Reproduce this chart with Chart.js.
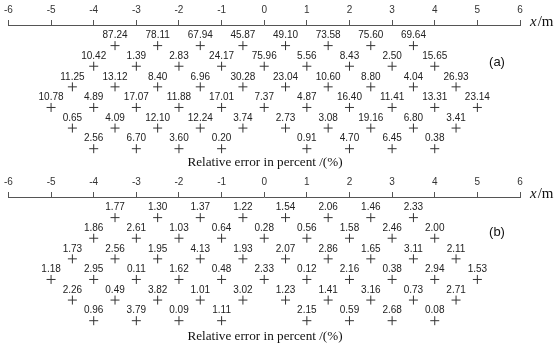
<!DOCTYPE html>
<html>
<head>
<meta charset="utf-8">
<script src="https://cdn.jsdelivr.net/npm/chart.js@4.4.1/dist/chart.umd.min.js"></script>
<style>
html,body{margin:0;padding:0;background:#fff;}
body{width:556px;height:351px;position:relative;overflow:hidden;}
.wrap{position:absolute;left:0;width:556px;}
#wa{top:0;height:172px;}
#wb{top:172px;height:179px;}
</style>
</head>
<body>
<div class="wrap" id="wa"><canvas id="ca"></canvas></div>
<div class="wrap" id="wb"><canvas id="cb"></canvas></div>
<script>
// x positions (m) of each measuring row
const rowX1 = [-3.5,-2.5,-1.5,-0.5,0.5,1.5,2.5,3.5];
const rowX2 = [-4,-3,-2,-1,0,1,2,3,4];
const rowX3 = [-4.5,-3.5,-2.5,-1.5,-0.5,0.5,1.5,2.5,3.5,4.5];
const rowX4 = [-5,-4,-3,-2,-1,0,1,2,3,4,5];
const rowX5 = [-4.5,-3.5,-2.5,-1.5,-0.5,0.5,1.5,2.5,3.5,4.5];
const rowX6 = [-4,-3,-2,-1,1,2,3,4];
const rowXs = [rowX1,rowX2,rowX3,rowX4,rowX5,rowX6];

// panel (a): relative error in percent
const a1 = [87.24,78.11,67.94,45.87,49.10,73.58,75.60,69.64];
const a2 = [10.42,1.39,2.83,24.17,75.96,5.56,8.43,2.50,15.65];
const a3 = [11.25,13.12,8.40,6.96,30.28,23.04,10.60,8.80,4.04,26.93];
const a4 = [10.78,4.89,17.07,11.88,17.01,7.37,4.87,16.40,11.41,13.31,23.14];
const a5 = [0.65,4.09,12.10,12.24,3.74,2.73,3.08,19.16,6.80,3.41];
const a6 = [2.56,6.70,3.60,0.20,0.91,4.70,6.45,0.38];

// panel (b): relative error in percent
const b1 = [1.77,1.30,1.37,1.22,1.54,2.06,1.46,2.33];
const b2 = [1.86,2.61,1.03,0.64,0.28,0.56,1.58,2.46,2.00];
const b3 = [1.73,2.56,1.95,4.13,1.93,2.07,2.86,1.65,3.11,2.11];
const b4 = [1.18,2.95,0.11,1.62,0.48,2.33,0.12,2.16,0.38,2.94,1.53];
const b5 = [2.26,0.49,3.82,1.01,3.02,1.23,1.41,3.16,0.73,2.71];
const b6 = [0.96,3.79,0.09,1.11,2.15,0.59,2.68,0.08];

const xTicks = [-6,-5,-4,-3,-2,-1,0,1,2,3,4,5,6];
const titleText = 'Relative error in percent /(%)';

function buildData(rows){
  const pts = [];
  rows.forEach((vals, r) => {
    vals.forEach((v, i) => pts.push({x: rowXs[r][i], y: r + 1, v: v}));
  });
  return pts;
}

const labelPlugin = {
  id: 'valLabels',
  afterDatasetsDraw(chart, args, opts) {
    const ctx = chart.ctx;
    ctx.save();
    ctx.fillStyle = '#222';
    ctx.font = '10px "Liberation Sans", Arial, sans-serif';
    ctx.textAlign = 'center';
    ctx.textBaseline = 'middle';
    const meta = chart.getDatasetMeta(0);
    const data = chart.data.datasets[0].data;
    meta.data.forEach((el, i) => {
      ctx.fillText(data[i].v.toFixed(2), el.x, el.y - 10);
    });
    // axis unit label
    const xs = chart.scales.x;
    ctx.fillStyle = '#111';
    ctx.textAlign = 'left';
    ctx.font = 'italic 15px "Liberation Serif", "Times New Roman", serif';
    const ux = xs.right + 10, uy = xs.bottom - 3;
    ctx.fillText('x', ux, uy);
    const w = ctx.measureText('x').width;
    ctx.font = '15px "Liberation Serif", "Times New Roman", serif';
    ctx.fillText('/m', ux + w + 1, uy);
    // panel letter
    ctx.font = '13px "Liberation Sans", Arial, sans-serif';
    ctx.textAlign = 'center';
    ctx.fillText(opts.letter, 497, opts.letterY);
    // title
    ctx.font = '13.2px "Liberation Serif", "Times New Roman", serif';
    ctx.fillText(titleText, 265, opts.titleY);
    ctx.restore();
  }
};

function makeChart(id, rows, letter, letterY, titleY, padLeft, padBottom) {
  return new Chart(document.getElementById(id), {
    type: 'scatter',
    data: {
      datasets: [{
        data: buildData(rows),
        pointStyle: 'cross',
        pointRadius: 4.5,
        pointHoverRadius: 4.5,
        borderColor: '#333',
        backgroundColor: '#333',
        pointBorderWidth: 1
      }]
    },
    options: {
      responsive: true,
      maintainAspectRatio: false,
      animation: false,
      events: [],
      layout: {padding: {left: padLeft, right: 36, top: 0, bottom: padBottom}},
      plugins: {
        legend: {display: false},
        tooltip: {enabled: false},
        valLabels: {letter: letter, letterY: letterY, titleY: titleY}
      },
      scales: {
        x: {
          type: 'linear',
          position: 'top',
          min: -6, max: 6,
          afterBuildTicks: (s) => { s.ticks = xTicks.map(v => ({value: v})); },
          ticks: {
            color: '#333',
            font: {family: '"Liberation Sans", Arial, sans-serif', size: 10},
            padding: 4,
            maxRotation: 0,
            autoSkip: false
          },
          grid: {display: true, drawOnChartArea: false, drawTicks: true, tickLength: 5, color: '#555', lineWidth: 1},
          border: {display: true, color: '#555', width: 1}
        },
        y: {
          display: false,
          min: 0, max: 6.5,
          reverse: true
        }
      }
    },
    plugins: [labelPlugin]
  });
}

makeChart('ca', [a1,a2,a3,a4,a5,a6], '(a)', 62, 163, 0, 13);
makeChart('cb', [b1,b2,b3,b4,b5,b6], '(b)', 60, 165, 3, 20);
</script>
</body>
</html>
